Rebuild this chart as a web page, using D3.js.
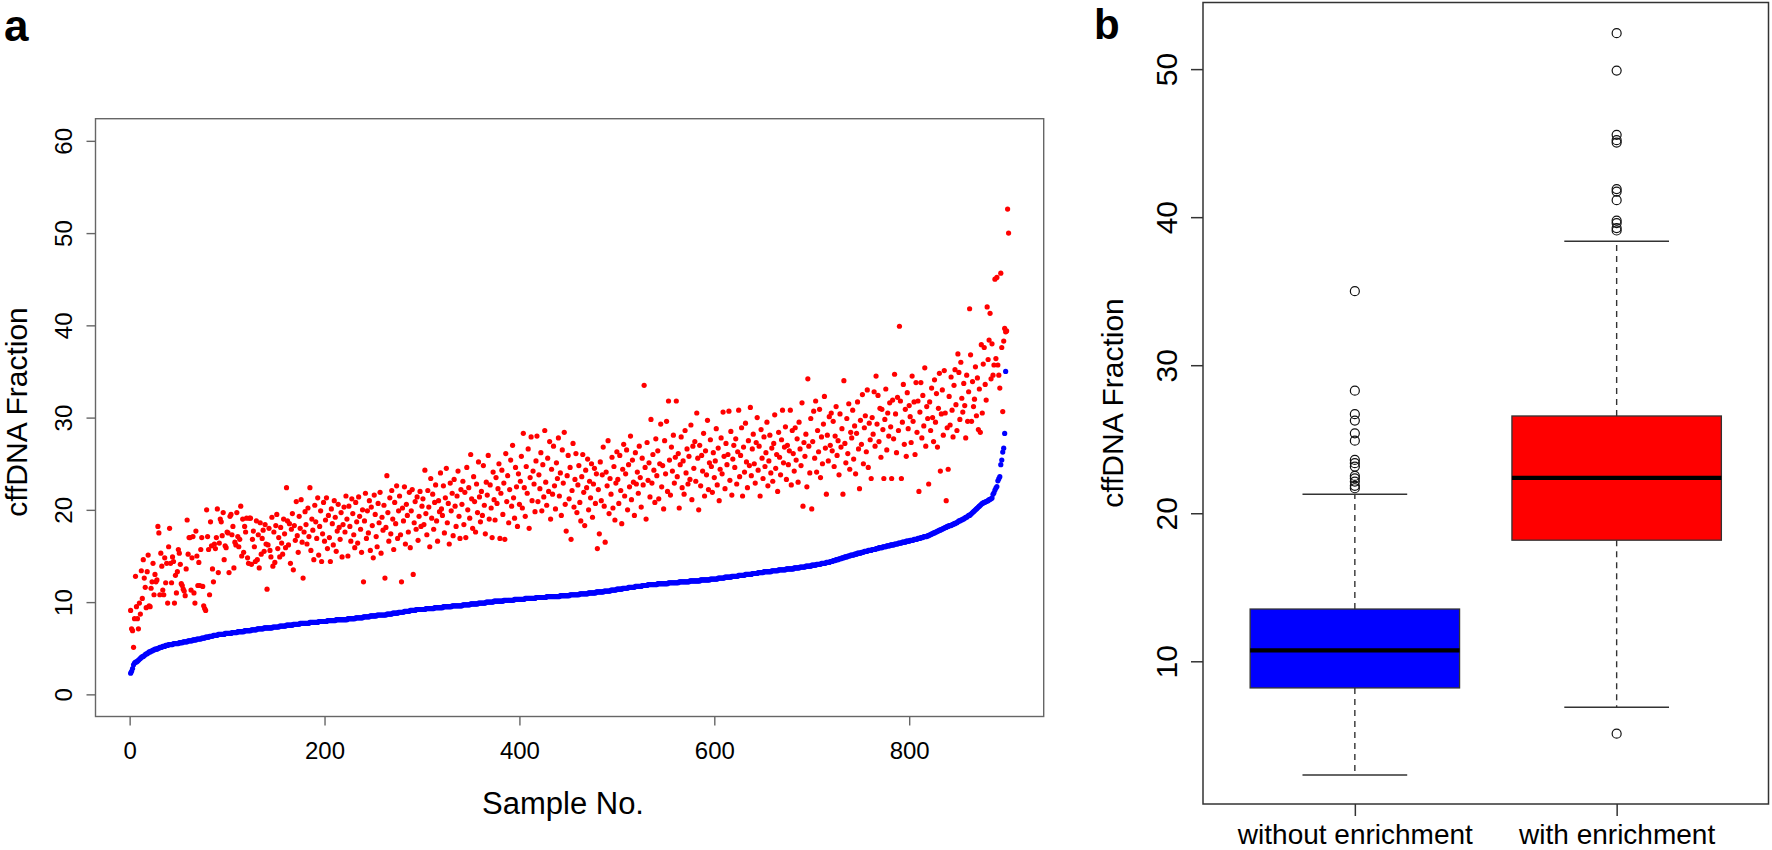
<!DOCTYPE html>
<html><head><meta charset="utf-8">
<script src="https://cdn.jsdelivr.net/npm/d3@7"></script>
<style>
body{margin:0;background:#fff}
svg{display:block}
text{font-family:"Liberation Sans",Arial,Helvetica,sans-serif}
</style>
</head><body>
<svg id="chart" width="1772" height="850"></svg>
<script>
// ---------- DATA ----------
const sampleTicks = [0, 200, 400, 600, 800];
const fractionTicksA = [0, 10, 20, 30, 40, 50, 60];
const fractionTicksB = [10, 20, 30, 40, 50];

// cffDNA fraction without enrichment (sorted ascending, sample 1..902)
const withoutEnrichment = [
2.3,2.5,2.8,3.2,3.4,3.5,3.5,3.6,3.7,3.8,3.9,4.0,4.1,4.1,4.2,4.3,4.4,4.4,4.5,4.6,4.6,4.7,4.7,4.8,
4.8,4.9,4.9,4.9,5.0,5.0,5.1,5.1,5.1,5.2,5.2,5.2,5.3,5.3,5.3,5.4,5.4,5.4,5.4,5.4,5.5,5.5,5.5,5.5,
5.5,5.5,5.6,5.6,5.6,5.6,5.7,5.7,5.7,5.7,5.7,5.8,5.8,5.8,5.8,5.8,5.9,5.9,5.9,5.9,6.0,6.0,6.0,
6.0,6.0,6.1,6.1,6.1,6.1,6.2,6.2,6.2,6.2,6.3,6.3,6.3,6.3,6.4,6.4,6.4,6.4,6.4,6.5,6.5,6.5,6.5,6.5,6.5,6.5,6.6,6.6,6.6,6.6,6.6,6.6,
6.6,6.7,6.7,6.7,6.7,6.7,6.7,6.8,6.8,6.8,6.8,6.8,6.8,6.8,6.9,6.9,6.9,6.9,6.9,6.9,6.9,7.0,7.0,7.0,7.0,7.0,7.0,7.1,7.1,7.1,7.1,7.1,7.1,7.1,7.2,7.2,7.2,7.2,7.2,
7.2,7.2,7.2,7.2,7.3,7.3,7.3,7.3,7.3,7.3,7.3,7.4,7.4,7.4,7.4,7.4,7.4,7.4,7.5,7.5,7.5,7.5,7.5,7.5,7.5,7.6,7.6,7.6,7.6,7.6,7.6,7.6,7.7,7.7,7.7,7.7,7.7,7.7,7.7,
7.7,7.7,7.7,7.8,7.8,7.8,7.8,7.8,7.8,7.8,7.8,7.8,7.9,7.9,7.9,7.9,7.9,7.9,7.9,7.9,7.9,8.0,8.0,8.0,8.0,8.0,8.0,8.0,8.0,8.0,8.1,8.1,8.1,8.1,8.1,8.1,8.1,8.1,8.1,
8.1,8.1,8.1,8.2,8.2,8.2,8.2,8.2,8.2,8.2,8.2,8.3,8.3,8.3,8.3,8.3,8.3,8.3,8.3,8.4,8.4,8.4,8.4,8.4,8.4,8.4,8.5,8.5,8.5,8.5,8.5,8.5,8.5,8.6,8.6,8.6,8.6,8.6,8.6,8.6,
8.6,8.6,8.6,8.7,8.7,8.7,8.7,8.7,8.7,8.8,8.8,8.8,8.8,8.8,8.8,8.9,8.9,8.9,8.9,8.9,8.9,9.0,9.0,9.0,9.0,9.0,9.0,9.1,9.1,9.1,9.1,9.1,9.1,9.2,9.2,9.2,9.2,9.2,9.2,
9.2,9.2,9.2,9.2,9.3,9.3,9.3,9.3,9.3,9.3,9.3,9.3,9.3,9.4,9.4,9.4,9.4,9.4,9.4,9.4,9.4,9.4,9.5,9.5,9.5,9.5,9.5,9.5,9.5,9.5,9.5,9.6,9.6,9.6,9.6,9.6,9.6,9.6,9.6,
9.6,9.6,9.6,9.7,9.7,9.7,9.7,9.7,9.7,9.7,9.7,9.8,9.8,9.8,9.8,9.8,9.8,9.8,9.8,9.9,9.9,9.9,9.9,9.9,9.9,9.9,9.9,10.0,10.0,10.0,10.0,10.0,10.0,10.0,10.0,10.1,10.1,10.1,10.1,10.1,
10.1,10.1,10.1,10.1,10.1,10.2,10.2,10.2,10.2,10.2,10.2,10.2,10.2,10.2,10.2,10.2,10.3,10.3,10.3,10.3,10.3,10.3,10.3,10.3,10.3,10.3,10.3,
10.4,10.4,10.4,10.4,10.4,10.4,10.4,10.4,10.4,10.4,10.4,10.5,10.5,10.5,10.5,10.5,10.5,10.5,10.5,10.5,10.5,10.5,10.6,10.6,10.6,10.6,10.6,10.6,10.6,10.6,10.6,10.6,
10.6,10.6,10.6,10.6,10.7,10.7,10.7,10.7,10.7,10.7,10.7,10.7,10.7,10.7,10.8,10.8,10.8,10.8,10.8,10.8,10.8,10.8,10.8,10.8,10.9,10.9,10.9,10.9,10.9,10.9,10.9,10.9,10.9,
11.0,11.0,11.0,11.0,11.0,11.0,11.0,11.0,11.1,11.1,11.1,11.1,11.1,
11.1,11.1,11.1,11.2,11.2,11.2,11.2,11.2,11.2,11.2,11.3,11.3,11.3,11.3,11.3,11.3,11.4,11.4,11.4,11.4,11.4,11.4,11.5,11.5,11.5,11.5,11.5,11.5,
11.6,11.6,11.6,11.6,11.6,11.6,11.6,11.7,11.7,11.7,11.7,11.7,11.7,11.7,11.8,11.8,11.8,11.8,11.8,11.8,11.9,11.9,11.9,11.9,11.9,11.9,
11.9,11.9,11.9,11.9,12.0,12.0,12.0,12.0,12.0,12.0,12.0,12.0,12.0,12.0,12.0,12.1,12.1,12.1,12.1,12.1,12.1,12.1,12.1,12.1,12.1,12.1,
12.2,12.2,12.2,12.2,12.2,12.2,12.2,12.2,12.2,12.2,12.2,12.3,12.3,12.3,12.3,12.3,12.3,12.3,12.3,12.3,12.3,12.3,12.4,12.4,12.4,12.4,12.4,12.4,12.4,12.4,12.4,12.4,12.5,12.5,12.5,12.5,12.5,
12.5,12.5,12.5,12.6,12.6,12.6,12.6,12.6,12.6,12.6,12.7,12.7,12.7,12.7,12.7,12.7,12.7,12.8,12.8,12.8,12.8,12.8,12.8,12.8,12.9,12.9,12.9,12.9,12.9,12.9,12.9,
13.0,13.0,13.0,13.0,13.0,13.0,13.0,13.1,13.1,13.1,13.1,13.1,13.1,13.2,13.2,13.2,13.2,13.2,13.2,13.3,13.3,13.3,13.3,13.3,
13.3,13.3,13.3,13.4,13.4,13.4,13.4,13.4,13.4,13.4,13.5,13.5,13.5,13.5,13.5,13.5,13.5,13.5,13.6,13.6,13.6,13.6,13.6,13.6,13.6,13.6,
13.7,13.7,13.7,13.7,13.7,13.7,13.8,13.8,13.8,13.8,13.8,13.8,13.9,13.9,13.9,13.9,13.9,13.9,14.0,14.0,14.0,14.0,14.0,14.1,14.1,14.1,14.1,14.1,14.2,14.2,14.2,14.2,14.2,
14.3,14.3,14.3,14.3,14.4,14.4,14.4,14.5,14.5,14.5,14.6,14.6,14.6,14.7,14.7,14.7,14.8,14.8,14.8,14.9,14.9,14.9,
15.0,15.0,15.0,15.1,15.1,15.1,15.1,15.2,15.2,15.2,15.3,15.3,15.3,15.3,15.4,15.4,15.4,15.5,15.5,15.5,15.5,15.6,15.6,15.6,15.6,15.7,15.7,15.7,15.7,15.8,15.8,15.8,15.9,15.9,
15.9,15.9,16.0,16.0,16.0,16.0,16.1,16.1,16.1,16.1,16.2,16.2,16.2,16.2,16.3,16.3,16.3,16.3,16.4,16.4,16.4,16.4,16.5,16.5,16.5,16.5,
16.6,16.6,16.6,16.6,16.7,16.7,16.7,16.7,16.8,16.8,16.8,16.8,16.9,16.9,16.9,17.0,17.0,17.0,17.1,17.1,17.1,
17.1,17.2,17.2,17.3,17.3,17.4,17.4,17.5,17.5,17.6,17.6,17.7,17.7,17.8,17.8,17.9,17.9,18.0,18.0,18.1,18.1,18.2,18.2,18.3,18.3,18.3,18.4,18.4,18.5,18.5,18.6,18.6,
18.7,18.8,18.8,18.9,18.9,19.0,19.0,19.1,19.2,19.2,19.3,19.4,19.4,19.5,19.6,19.7,
19.8,19.9,20.0,20.1,20.2,20.3,20.4,20.5,20.6,20.7,20.75,20.8,
20.85,20.9,20.95,21.0,21.1,21.15,21.2,21.28,
21.69,21.85,22.14,22.36,22.52,23.15,23.38,23.6,24.9,25.4,26.26,26.69,28.28,35.0
];

// cffDNA fraction with enrichment (same samples, same order)
const withEnrichment = [
9.1,7.1,6.9,5.1,8.2,12.8,9.5,8.2,7.1,9.9,8.7,13.4,10.4,14.6,12.6,11.6,9.4,13.3,15.1,9.6,
9.5,11.5,12.2,14.2,10.8,13.0,12.2,12.4,18.2,17.5,10.8,15.3,13.9,11.3,10.8,14.8,12.1,14.2,9.9,16.0,
18.0,14.2,12.1,14.9,14.4,9.9,12.9,11.0,13.3,15.7,15.3,14.1,12.0,11.8,11.4,11.2,10.7,13.6,18.9,15.2,
17.0,17.0,11.3,14.8,17.1,11.0,9.9,17.7,15.0,11.8,14.3,11.8,15.7,17.0,11.7,9.6,9.3,9.1,20.0,17.1,
15.7,10.8,18.7,16.1,13.6,12.2,16.3,15.8,17.0,20.1,13.2,16.4,19.0,18.7,17.2,19.7,14.6,16.1,15.9,17.6,
17.5,13.2,19.3,19.5,17.3,18.2,13.7,16.5,16.2,19.7,17.1,16.0,16.8,20.4,15.0,19.0,15.4,18.2,17.6,19.1,
14.8,14.2,19.1,19.1,14.1,16.8,17.7,16.0,14.4,18.8,14.6,17.3,13.7,18.6,15.2,16.9,17.8,15.5,18.4,16.3,
11.4,16.2,18.0,15.6,14.9,19.2,13.9,17.6,14.3,18.3,19.5,15.8,17.0,14.9,18.1,16.4,15.2,19.0,17.4,15.9,
22.4,18.8,16.2,18.5,14.2,17.9,19.6,13.5,18.3,16.7,20.9,17.2,15.4,19.3,18.0,21.1,16.5,12.6,17.6,19.8,
18.4,16.3,20.2,17.1,22.4,15.6,19.0,17.8,14.6,20.5,18.7,16.9,21.3,15.1,18.2,19.9,14.4,17.4,20.8,16.6,
18.9,21.3,15.8,19.4,17.0,14.4,20.1,18.5,16.2,21.0,19.2,15.5,17.7,20.6,18.1,16.8,19.7,14.9,18.4,20.3,
17.6,21.5,19.0,15.0,20.4,18.2,16.6,21.2,19.6,17.3,15.9,20.8,18.7,16.4,21.4,19.3,17.9,15.4,20.0,12.2,
18.8,21.8,16.9,19.9,17.5,21.0,15.6,20.3,18.3,14.8,21.6,19.5,17.1,16.0,20.7,18.6,21.9,15.3,19.2,17.8,
20.5,12.6,18.1,23.7,19.7,16.6,21.3,17.4,22.1,19.0,15.7,20.8,18.5,22.6,16.9,19.9,21.5,17.3,12.2,20.2,
18.8,22.5,16.3,20.6,19.4,17.6,21.9,15.9,19.9,22.2,13.0,18.6,20.9,17.9,21.4,16.7,19.3,22.0,18.2,20.4,
21.2,18.4,24.3,19.6,17.3,22.1,20.3,16.0,23.4,19.1,21.7,17.9,20.8,22.7,18.8,16.6,21.0,19.8,24.0,20.1,
19.4,22.6,17.5,21.3,24.5,18.6,20.7,16.3,22.9,19.9,21.8,17.2,23.3,20.4,18.2,21.5,24.2,19.3,16.9,22.2,
20.6,23.1,18.4,21.9,17.0,24.6,20.0,22.4,19.1,26.0,21.2,18.0,23.6,20.9,17.6,22.8,19.7,25.2,21.4,18.7,
22.0,19.4,24.8,20.5,17.4,23.0,21.6,25.9,19.0,22.7,20.2,17.0,24.1,21.1,18.9,23.5,20.7,22.3,25.0,16.9,
21.8,24.3,19.5,22.9,16.8,26.1,20.9,23.7,18.6,22.2,25.4,20.4,27.0,21.3,19.1,24.6,22.5,18.2,23.9,20.6,
23.1,25.8,20.2,28.3,22.4,19.3,24.7,21.8,26.6,18.0,23.5,27.9,21.0,24.2,22.8,19.8,25.3,28.0,20.9,23.8,
22.3,26.2,19.9,24.9,21.4,28.6,23.0,20.5,25.6,22.0,27.4,19.0,24.4,21.7,26.9,22.6,20.1,25.1,23.4,27.8,
21.5,24.0,19.4,26.5,22.9,28.4,20.6,17.7,23.7,25.9,21.2,24.6,16.8,22.1,27.2,20.3,23.3,26.1,19.7,22.7,
24.8,20.8,18.8,23.6,26.0,21.9,18.3,24.3,22.4,25.5,20.0,23.1,21.3,25.0,19.2,22.8,24.5,20.7,23.9,15.8,
22.2,17.4,25.2,21.0,23.8,26.8,20.4,16.5,24.1,22.6,27.5,19.6,23.4,21.7,25.7,20.2,24.7,18.9,22.9,26.3,
23.3,20.7,25.9,22.1,18.5,24.4,27.1,21.5,23.9,26.5,20.0,24.9,22.5,28.0,21.1,25.4,23.0,19.4,26.2,22.8,
24.1,21.8,26.9,23.5,20.3,25.6,22.7,33.5,24.6,19.0,27.3,23.2,25.1,21.4,29.8,22.9,26.0,24.3,20.8,27.7,
23.7,26.4,21.2,25.0,29.3,22.5,24.8,20.1,27.5,23.9,29.6,22.0,31.8,25.4,21.6,26.8,24.2,28.1,22.9,25.7,
31.8,23.6,26.1,20.2,24.9,27.9,22.4,25.3,21.7,28.6,24.0,26.6,22.8,25.8,23.3,29.2,21.1,26.9,24.5,27.4,
23.1,30.5,25.6,20.0,27.0,22.6,25.9,24.2,28.3,21.5,26.4,23.8,29.7,22.2,25.1,27.6,24.7,21.9,26.2,23.5,
25.3,28.8,22.7,26.7,21.0,24.4,27.8,23.9,30.6,25.8,22.3,27.2,24.9,26.0,30.7,23.2,28.5,21.6,25.5,27.0,
24.6,27.7,22.8,26.3,30.8,23.6,25.9,28.9,21.5,26.8,24.1,29.4,25.2,22.4,27.5,24.8,31.1,23.7,26.6,28.2,
25.0,22.9,27.3,30.0,24.3,26.9,21.5,28.7,25.6,23.4,27.9,24.7,26.2,29.5,22.6,25.3,28.1,24.0,26.7,23.1,
27.2,30.3,24.5,26.0,22.0,28.4,25.7,23.8,27.6,30.8,25.1,26.8,29.0,23.3,27.0,24.9,26.4,30.8,22.7,28.6,
26.1,24.2,28.9,25.4,27.7,23.0,29.5,26.6,24.8,31.6,20.4,27.3,25.8,28.2,22.5,34.2,26.9,24.0,29.9,20.1,
27.4,30.7,25.6,31.8,24.1,28.6,26.3,30.9,23.5,27.9,25.0,29.3,32.3,26.7,21.7,28.1,25.3,30.1,27.0,30.5,
26.4,29.6,24.7,28.0,31.2,25.9,27.5,23.8,30.4,26.8,28.8,21.7,34.0,27.2,25.1,29.9,26.1,31.5,24.4,28.4,
27.8,30.8,25.5,29.1,23.9,28.3,31.7,26.6,22.3,29.7,27.1,32.5,25.0,28.9,30.2,26.3,33.0,24.6,29.4,27.6,
23.4,30.0,28.2,32.8,26.9,34.5,29.3,32.4,27.4,31.0,25.7,30.9,28.7,23.4,29.8,33.1,26.5,30.5,28.0,31.6,
29.0,23.4,31.9,27.7,34.7,30.4,26.2,32.2,28.6,39.9,31.8,23.4,29.5,33.6,27.1,30.9,25.8,32.7,28.8,31.3,
30.1,27.3,34.5,29.6,31.7,26.0,33.8,28.4,31.8,22.0,30.6,33.8,27.8,32.4,29.1,35.4,26.9,31.2,29.9,22.8,
31.7,28.6,33.2,30.0,27.4,34.1,29.5,32.6,26.8,31.0,34.8,24.2,30.4,33.0,28.1,35.1,30.5,21.0,28.9,24.4,
32.3,29.2,34.4,30.8,27.9,33.5,35.2,31.4,28.6,36.9,34.9,29.8,36.0,32.1,30.6,33.7,31.3,27.8,34.6,29.6,
32.8,41.8,36.8,29.6,33.9,31.2,32.0,35.5,30.2,34.3,28.7,33.1,28.4,37.9,30.5,35.8,37.6,33.6,31.9,42.0,
36.3,38.4,41.3,34.2,38.0,34.6,35.7,45.0,36.4,45.2,35.7,34.6,33.2,45.65,37.6,30.65,38.3,39.67,39.3,39.4,
52.6,50.0
];

// Box plot summary (panel b)
const groups = ["without enrichment", "with enrichment"];
const whiskerLow  = [2.32, 6.89];
const quartile1   = [8.20, 18.18];
const medians     = [10.74, 22.39];
const quartile3   = [13.53, 26.57];
const whiskerHigh = [21.28, 38.38];
const outliersWithout = [35.0, 28.28, 26.69, 26.26, 25.4, 24.9, 23.6, 23.38, 23.15, 22.52, 22.36, 22.14, 21.85, 21.69];
const outliersWith    = [52.43, 49.9, 45.56, 45.2, 45.04, 41.9, 41.73, 41.15, 39.77, 39.6, 39.26, 39.1, 5.11];

// ---------- DRAWING ----------
const FONT = '"Liberation Sans",Arial,Helvetica,sans-serif';
const svg = d3.select("#chart");

// Panel labels
svg.append("text").attr("x", 4).attr("y", 40.5).attr("font-size", 44).attr("font-weight", "bold").attr("font-family", FONT).text("a");
svg.append("text").attr("x", 1094).attr("y", 38.5).attr("font-size", 42).attr("font-weight", "bold").attr("font-family", FONT).text("b");

// ===== Panel a =====
const A = {l: 95.5, r: 1043.7, t: 118.7, b: 716.5};
const xA = d3.scaleLinear().domain([-35.04, 938.04]).range([A.l, A.r]);
const yA = d3.scaleLinear().domain([-2.4, 62.4]).range([A.b, A.t]);
const gA = svg.append("g");

gA.append("g").selectAll("circle").data(withEnrichment).join("circle")
  .attr("cx", (d, i) => xA(i + 1)).attr("cy", d => yA(d)).attr("r", 2.6).attr("fill", "#ff0000");
gA.append("g").selectAll("circle").data(withoutEnrichment).join("circle")
  .attr("cx", (d, i) => xA(i + 1)).attr("cy", d => yA(d)).attr("r", 2.6).attr("fill", "#0000ff");

gA.append("rect").attr("x", A.l).attr("y", A.t).attr("width", A.r - A.l).attr("height", A.b - A.t)
  .attr("fill", "none").attr("stroke", "#666").attr("stroke-width", 1.4);

const xAxA = gA.append("g").attr("transform", `translate(0,${A.b})`)
  .call(d3.axisBottom(xA).tickValues(sampleTicks).tickSize(9).tickFormat(d3.format("d")));
xAxA.select(".domain").remove();
xAxA.selectAll(".tick line").attr("stroke", "#666").attr("stroke-width", 1.4);
xAxA.selectAll(".tick text").attr("y", 42.5).attr("dy", null).attr("font-size", 24)
  .attr("font-family", FONT).attr("fill", "#000");

const yAxA = gA.append("g").attr("transform", `translate(${A.l},0)`)
  .call(d3.axisLeft(yA).tickValues(fractionTicksA).tickSize(9).tickFormat(d3.format("d")));
yAxA.select(".domain").remove();
yAxA.selectAll(".tick line").attr("stroke", "#666").attr("stroke-width", 1.4);
yAxA.selectAll(".tick text").attr("x", 0).attr("dy", null).attr("text-anchor", "middle")
  .attr("transform", "translate(-23.5,0) rotate(-90)").attr("font-size", 24)
  .attr("font-family", FONT).attr("fill", "#000");

gA.append("text").attr("x", 563).attr("y", 814).attr("text-anchor", "middle")
  .attr("font-size", 31).attr("font-family", FONT).text("Sample No.");
gA.append("text").attr("transform", "translate(27,412) rotate(-90)").attr("text-anchor", "middle")
  .attr("font-size", 30).attr("font-family", FONT).text("cffDNA Fraction");

// ===== Panel b =====
const B = {l: 1203, r: 1768.5, t: 2.5, b: 804};
const xB = d3.scaleLinear().domain([0.42, 2.58]).range([B.l, B.r]);
const yB = d3.scaleLinear().domain([0.36, 54.5]).range([B.b, B.t]);
const gB = svg.append("g");
const boxFill = ["#0000ff", "#ff0000"];
const outliers = [outliersWithout, outliersWith];
const dark = "#333";

groups.forEach((name, i) => {
  const cx = xB(i + 1);
  const half = xB(0.4) - xB(0);
  const cap = xB(0.2) - xB(0);
  const g = gB.append("g");
  g.append("line").attr("x1", cx).attr("x2", cx).attr("y1", yB(quartile3[i])).attr("y2", yB(whiskerHigh[i]))
    .attr("stroke", dark).attr("stroke-width", 1.4).attr("stroke-dasharray", "6,5");
  g.append("line").attr("x1", cx).attr("x2", cx).attr("y1", yB(quartile1[i])).attr("y2", yB(whiskerLow[i]))
    .attr("stroke", dark).attr("stroke-width", 1.4).attr("stroke-dasharray", "6,5");
  [whiskerHigh[i], whiskerLow[i]].forEach(v => {
    g.append("line").attr("x1", cx - cap).attr("x2", cx + cap).attr("y1", yB(v)).attr("y2", yB(v))
      .attr("stroke", dark).attr("stroke-width", 1.5);
  });
  g.append("rect").attr("x", cx - half).attr("width", 2 * half)
    .attr("y", yB(quartile3[i])).attr("height", yB(quartile1[i]) - yB(quartile3[i]))
    .attr("fill", boxFill[i]).attr("stroke", dark).attr("stroke-width", 1.3);
  g.append("line").attr("x1", cx - half).attr("x2", cx + half).attr("y1", yB(medians[i])).attr("y2", yB(medians[i]))
    .attr("stroke", "#000").attr("stroke-width", 4.2);
  g.selectAll("circle.o").data(outliers[i]).join("circle").attr("class", "o")
    .attr("cx", cx).attr("cy", d => yB(d)).attr("r", 4.5)
    .attr("fill", "none").attr("stroke", "#111").attr("stroke-width", 1.2);
});

gB.append("rect").attr("x", B.l).attr("y", B.t).attr("width", B.r - B.l).attr("height", B.b - B.t)
  .attr("fill", "none").attr("stroke", dark).attr("stroke-width", 1.5);

const xAxB = gB.append("g").attr("transform", `translate(0,${B.b})`)
  .call(d3.axisBottom(xB).tickValues([1, 2]).tickSize(12).tickFormat((d, i) => groups[i]));
xAxB.select(".domain").remove();
xAxB.selectAll(".tick line").attr("stroke", dark).attr("stroke-width", 1.5);
xAxB.selectAll(".tick text").attr("y", 39.5).attr("dy", null).attr("font-size", 28)
  .attr("font-family", FONT).attr("fill", "#000");

const yAxB = gB.append("g").attr("transform", `translate(${B.l},0)`)
  .call(d3.axisLeft(yB).tickValues(fractionTicksB).tickSize(12).tickFormat(d3.format("d")));
yAxB.select(".domain").remove();
yAxB.selectAll(".tick line").attr("stroke", dark).attr("stroke-width", 1.5);
yAxB.selectAll(".tick text").attr("x", 0).attr("dy", null).attr("text-anchor", "middle")
  .attr("transform", "translate(-26,0) rotate(-90)").attr("font-size", 30)
  .attr("font-family", FONT).attr("fill", "#000");

gB.append("text").attr("transform", "translate(1123,403) rotate(-90)").attr("text-anchor", "middle")
  .attr("font-size", 30).attr("font-family", FONT).text("cffDNA Fraction");
</script>
</body></html>
